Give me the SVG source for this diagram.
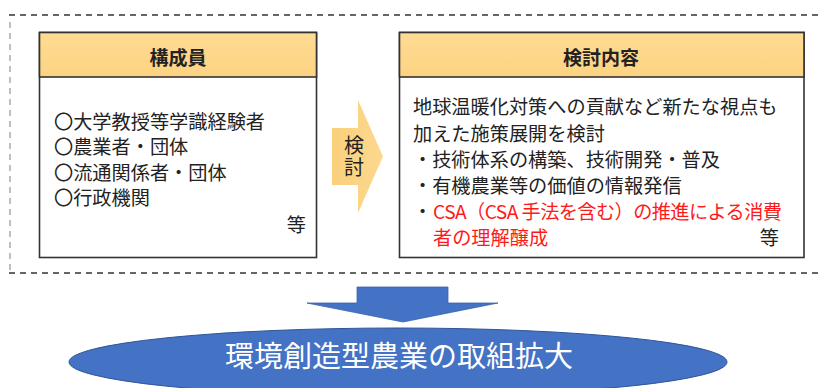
<svg xmlns="http://www.w3.org/2000/svg" width="823" height="388" viewBox="0 0 823 388">
<defs>
<linearGradient id="hdr" x1="0" y1="0" x2="0" y2="1">
<stop offset="0" stop-color="#FFDB93"/>
<stop offset="1" stop-color="#FCD382"/>
</linearGradient>
<linearGradient id="arw" x1="0" y1="0" x2="1" y2="0">
<stop offset="0" stop-color="#FAD07C"/>
<stop offset="1" stop-color="#FCD88E"/>
</linearGradient>
</defs>
<style>
.box{fill:#fff;stroke:#333;stroke-width:1.6}
.hdr{fill:url(#hdr);stroke:#333;stroke-width:1.6}
.t{font-family:"Noto Sans CJK JP","Noto Sans",sans-serif;font-size:19.2px;fill:#222}
.h{font-family:"Noto Sans CJK JP","Noto Sans",sans-serif;font-size:19px;font-weight:bold;fill:#222}
.red{fill:#FF1A1A}
.dash{stroke:#333;stroke-width:1.5;stroke-dasharray:6 5;fill:none}
.gdash{stroke:#aaa;stroke-width:1.5;stroke-dasharray:6 5;fill:none}
</style>
<g id="frame">
<line class="dash" x1="9" y1="15" x2="818" y2="15"/>
<line class="dash" x1="9" y1="273" x2="823" y2="273"/>
<line class="gdash" x1="10" y1="22" x2="10" y2="272"/>
</g>
<g id="members">
<rect class="box" x="39.5" y="32.5" width="277" height="225"/>
<rect class="hdr" x="39.5" y="32.5" width="277" height="44.5"/>
<text class="h" x="178" y="65" text-anchor="middle">構成員</text>
<text class="t" x="54" y="128.5">〇大学教授等学識経験者</text>
<text class="t" x="54" y="154">〇農業者・団体</text>
<text class="t" x="54" y="179.5">〇流通関係者・団体</text>
<text class="t" x="54" y="205">〇行政機関</text>
<text class="t" x="306" y="232" text-anchor="end">等</text>
</g>
<g id="content">
<rect class="box" x="399.5" y="32.5" width="404.5" height="225"/>
<rect class="hdr" x="399.5" y="32.5" width="404.5" height="44.5"/>
<text class="h" x="601" y="65" text-anchor="middle">検討内容</text>
<text class="t" x="413" y="114">地球温暖化対策への貢献など新たな視点も</text>
<text class="t" x="413" y="140.5">加えた施策展開を検討</text>
<text class="t" x="413" y="167">・技術体系の構築、技術開発・普及</text>
<text class="t" x="413" y="193">・有機農業等の価値の情報発信</text>
<text class="t" x="413" y="219">・</text>
<text class="t red" x="433" y="219" textLength="349" lengthAdjust="spacing">CSA（CSA 手法を含む）の推進による消費</text>
<text class="t red" x="433" y="245">者の理解醸成</text>
<text class="t" x="779" y="245" text-anchor="end">等</text>
</g>
<g id="connectors">
<g id="kento-arrow">
<polygon points="332,128 358,128 358,100 383,156.5 358,213 358,185 332,185" fill="url(#arw)"/>
<text class="t" x="354" y="157" text-anchor="middle" writing-mode="vertical-rl" style="font-size:20px;letter-spacing:2px">検討</text>
</g>
<polygon id="down-arrow" points="357,287 448,287 448,303 498,303 403,322 307,303 357,303" fill="#4472C4" stroke="#3A63AD" stroke-width="0.8"/>
</g>
<g id="result">
<ellipse cx="398" cy="362" rx="329" ry="34" fill="#4472C4" stroke="#2F5597" stroke-width="1"/>
<text x="399" y="367" text-anchor="middle" font-family="Noto Sans CJK JP, Noto Sans, sans-serif" font-size="29" fill="#fff">環境創造型農業の取組拡大</text>
</g>
</svg>
